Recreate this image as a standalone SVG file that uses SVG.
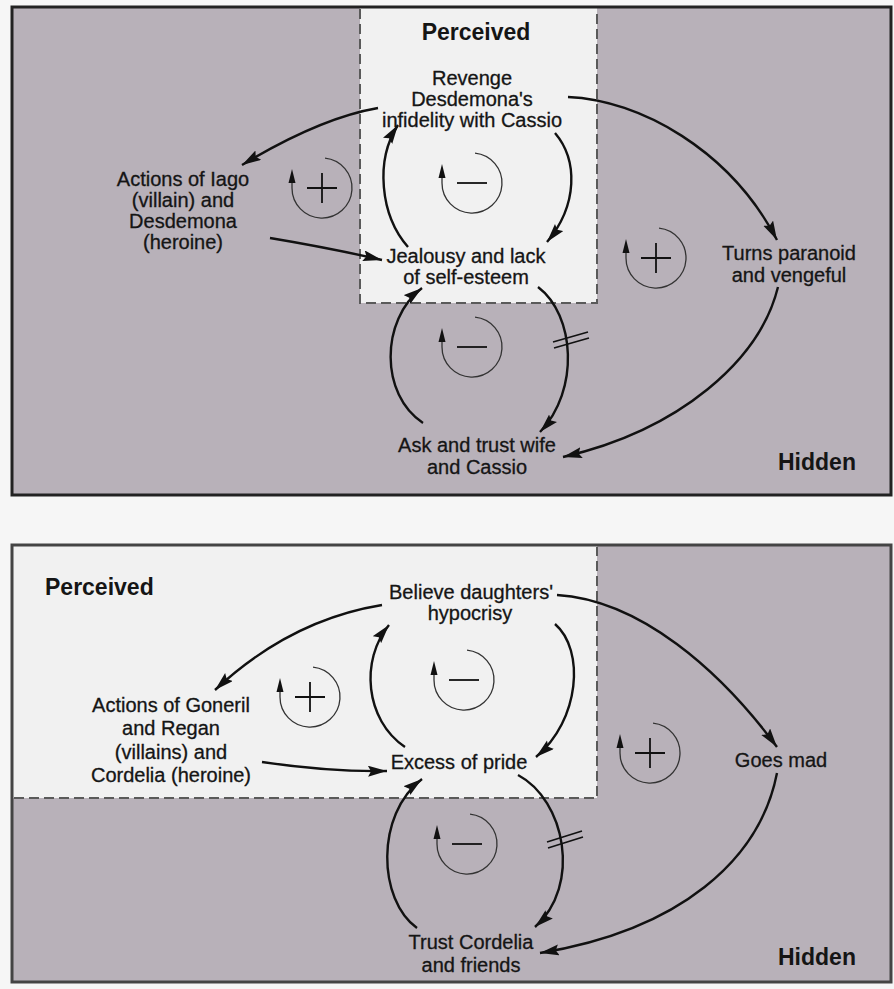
<svg xmlns="http://www.w3.org/2000/svg" width="894" height="989" viewBox="0 0 894 989">
<style>
.lbl{font-family:"Liberation Sans",Arial,Helvetica,sans-serif;font-size:20px;fill:#151515;stroke:#151515;stroke-width:0.3;text-anchor:middle}
.ttl{font-family:"Liberation Sans",Arial,Helvetica,sans-serif;font-size:23px;font-weight:bold;fill:#151515}
.hid{fill:#b8b1b9}
.per{fill:#f1f1f1}
.dash{fill:none;stroke:#5a5a5a;stroke-width:2;stroke-dasharray:10 5}
.conn{fill:none;stroke:#111;stroke-width:2.4;marker-end:url(#ah)}
.delay{fill:none;stroke:#111;stroke-width:1.6}
.loop{fill:none;stroke:#333;stroke-width:1.3}
.lh{fill:#111}
.sign{fill:none;stroke:#111;stroke-width:1.8}
</style>
<defs>
<marker id="ah" markerUnits="userSpaceOnUse" markerWidth="20" markerHeight="12" refX="19" refY="5.5" orient="auto">
<path d="M0,0 L19,5.5 L0,11 L3,5.5 z" fill="#111"/>
</marker>
<g id="loopbase">
<path class="loop" d="M3,-29.8 A30,30 0 1 1 -30,0 L-30,-6"/>
<path class="lh" d="M-30,-19 L-33.5,-5 L-26.5,-5 z"/>
</g>
</defs>
<rect x="0" y="0" width="894" height="989" fill="#f6f6f6"/>

<!-- Top panel -->
<g id="panel-top">
<rect class="hid" x="12" y="7" width="879" height="488"/>
<rect class="per" x="360" y="7" width="237" height="296"/>
<path class="dash" d="M360,9 V303 H597 V9"/>
<rect x="12" y="7" width="879" height="488" fill="none" stroke="#222" stroke-width="3"/>
<text class="ttl" x="476" y="40" text-anchor="middle">Perceived</text>
<text class="ttl" x="778" y="470">Hidden</text>
</g>

<!-- Bottom panel -->
<g id="panel-bottom">
<rect class="hid" x="12" y="545" width="879" height="437"/>
<rect class="per" x="12" y="545" width="585" height="253"/>
<path class="dash" d="M14,798 H597 V547"/>
<rect x="12" y="545" width="879" height="437" fill="none" stroke="#444" stroke-width="3"/>
<text class="ttl" x="45" y="595">Perceived</text>
<text class="ttl" x="778" y="965">Hidden</text>
</g>

<g id="connectors">
<!-- top -->
<path class="conn" d="M378,108 Q320,118 242,165"/>
<path class="conn" d="M270,238 Q330,248 382,260"/>
<path class="conn" d="M408,247 C380,215 375,160 398,125"/>
<path class="conn" d="M555,133 C578,160 578,205 547,242"/>
<path class="conn" d="M568,97 C640,100 730,150 777,240"/>
<path class="conn" d="M778,287 C760,360 680,430 563,457"/>
<path class="conn" d="M538,287 C575,315 580,390 540,432"/>
<path class="delay" d="M553,342 L588,332 M554,348 L589,338"/>
<path class="conn" d="M423,423 C380,395 380,320 422,288"/>
<!-- bottom -->
<path class="conn" d="M382,605 Q290,620 215,690"/>
<path class="conn" d="M262,762 Q330,772 387,771"/>
<path class="conn" d="M405,747 C365,720 360,660 389,625"/>
<path class="conn" d="M555,624 C585,650 580,720 536,757"/>
<path class="conn" d="M557,595 C640,600 720,670 777,747"/>
<path class="conn" d="M777,773 C760,860 680,930 540,953"/>
<path class="conn" d="M518,775 C565,800 582,885 535,927"/>
<path class="delay" d="M547,842 L582,831 M548,848 L583,837"/>
<path class="conn" d="M417,928 C378,900 375,815 422,779"/>
</g>

<!-- loop symbols -->
<g id="loop-top-left" transform="translate(322,188)"><use href="#loopbase"/><path class="sign" d="M-15,0 H15 M0,-15 V15"/></g>
<g id="loop-top-center" transform="translate(472,183)"><use href="#loopbase"/><path class="sign" d="M-15,0 H15"/></g>
<g id="loop-top-right" transform="translate(656,258)"><use href="#loopbase"/><path class="sign" d="M-15,0 H15 M0,-15 V15"/></g>
<g id="loop-top-lower" transform="translate(472,347)"><use href="#loopbase"/><path class="sign" d="M-15,0 H15"/></g>
<g id="loop-bot-left" transform="translate(310,697)"><use href="#loopbase"/><path class="sign" d="M-15,0 H15 M0,-15 V15"/></g>
<g id="loop-bot-center" transform="translate(464,680)"><use href="#loopbase"/><path class="sign" d="M-15,0 H15"/></g>
<g id="loop-bot-right" transform="translate(650,753)"><use href="#loopbase"/><path class="sign" d="M-15,0 H15 M0,-15 V15"/></g>
<g id="loop-bot-lower" transform="translate(467,844)"><use href="#loopbase"/><path class="sign" d="M-15,0 H15"/></g>

<!-- top nodes -->
<g id="n-revenge"><text class="lbl" x="472" y="85">Revenge</text><text class="lbl" x="472" y="106">Desdemona's</text><text class="lbl" x="472" y="127">infidelity with Cassio</text></g>
<g id="n-iago"><text class="lbl" x="183" y="186">Actions of Iago</text><text class="lbl" x="183" y="207">(villain) and</text><text class="lbl" x="183" y="228">Desdemona</text><text class="lbl" x="183" y="249">(heroine)</text></g>
<g id="n-jealousy"><text class="lbl" x="466" y="263">Jealousy and lack</text><text class="lbl" x="466" y="284">of self-esteem</text></g>
<g id="n-paranoid"><text class="lbl" x="789" y="260">Turns paranoid</text><text class="lbl" x="789" y="282">and vengeful</text></g>
<g id="n-ask"><text class="lbl" x="477" y="452">Ask and trust wife</text><text class="lbl" x="477" y="474">and Cassio</text></g>

<!-- bottom nodes -->
<g id="n-believe"><text class="lbl" x="471" y="599">Believe daughters'</text><text class="lbl" x="470" y="620">hypocrisy</text></g>
<g id="n-goneril"><text class="lbl" x="171" y="712">Actions of Goneril</text><text class="lbl" x="171" y="735">and Regan</text><text class="lbl" x="171" y="759">(villains) and</text><text class="lbl" x="171" y="782">Cordelia (heroine)</text></g>
<g id="n-pride"><text class="lbl" x="459" y="769">Excess of pride</text></g>
<g id="n-mad"><text class="lbl" x="781" y="767">Goes mad</text></g>
<g id="n-trust"><text class="lbl" x="471" y="949">Trust Cordelia</text><text class="lbl" x="471" y="972">and friends</text></g>
</svg>
